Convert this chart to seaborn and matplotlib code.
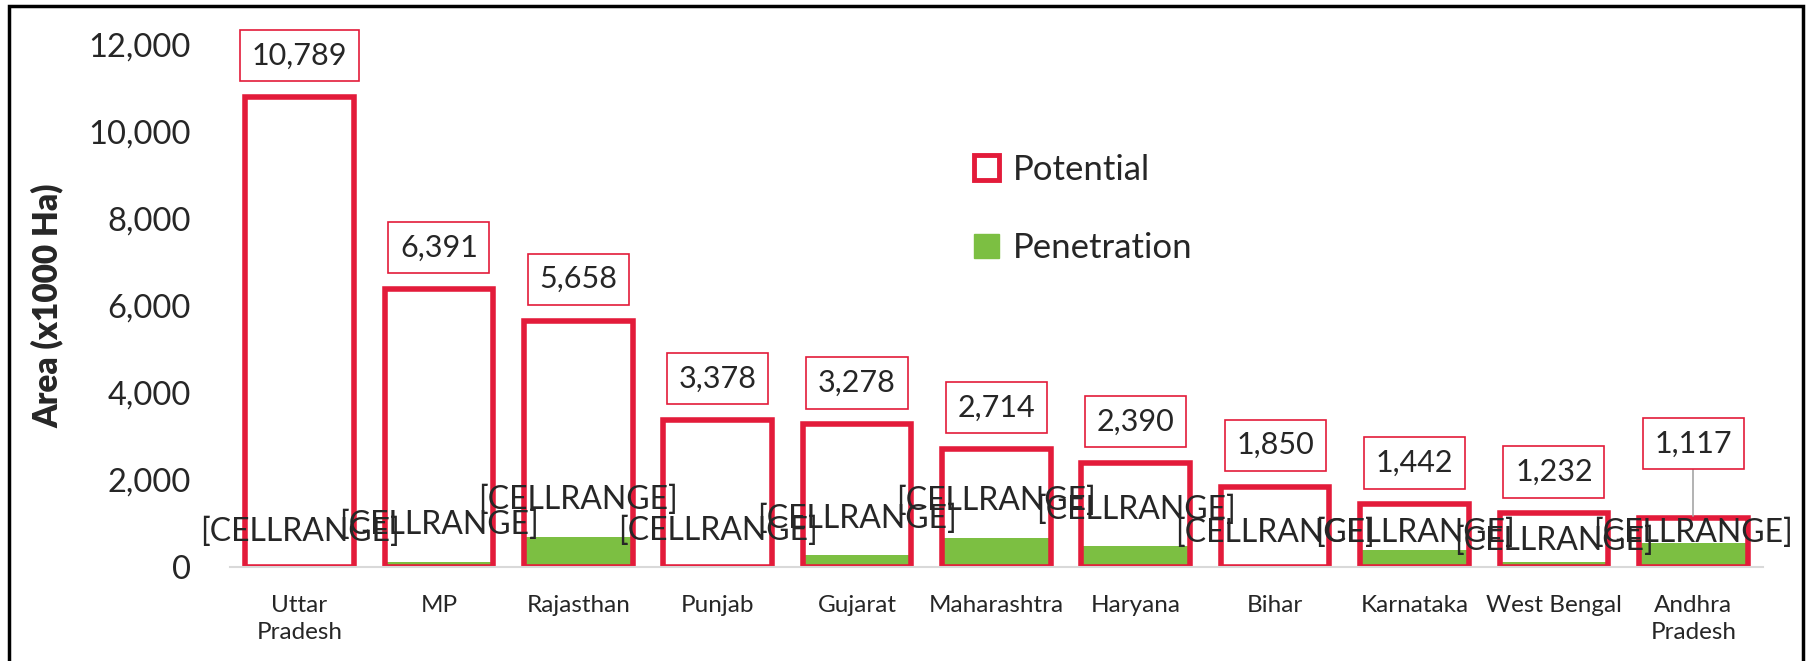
import seaborn as sns
import matplotlib.pyplot as plt
from matplotlib.patches import Patch, Rectangle
from matplotlib.ticker import FuncFormatter

states = ["Uttar\nPradesh", "MP", "Rajasthan", "Punjab", "Gujarat", "Maharashtra",
          "Haryana", "Bihar", "Karnataka", "West Bengal", "Andhra\nPradesh"]
potential = [10789, 6391, 5658, 3378, 3278, 2714, 2390, 1850, 1442, 1232, 1117]
penetration = [0, 120, 700, 0, 280, 665, 495, 0, 390, 115, 545]
pen_label = "[CELLRANGE]"

# label placement tweaks (data units above the bar top)
pot_lift = [950, 950, 950, 950, 950, 950, 950, 950, 950, 950, 1720]
pen_lift = [800, 850, 850, 830, 820, 860, 810, 790, 400, 485, 250]

red = "#E31B3A"
green = "#7CBF42"

sns.set_style("white")
plt.rcParams["font.family"] = ["Lato", "DejaVu Sans"]

fig = plt.figure(figsize=(18.1, 6.61), dpi=100)
ax = fig.add_axes([0.127, 0.142, 0.847, 0.791])

sns.barplot(x=states, y=penetration, color=green, width=0.78, errorbar=None,
            saturation=1, ax=ax, linewidth=0)
sns.barplot(x=states, y=potential, color=red, fill=False, width=0.78, errorbar=None,
            saturation=1, ax=ax, linewidth=4)

for i, v in enumerate(potential):
    y = v + pot_lift[i]
    ax.text(i, y, f"{v:,}", ha="center", va="center", fontsize=22, zorder=5,
            bbox=dict(boxstyle="square,pad=0.38", fc="white", ec=red, lw=1.2),
            clip_on=False)
    if pot_lift[i] > 1200:
        ax.plot([i, i], [v + 60, y - 480], color="#A6A6A6", lw=1.2, zorder=4)

for i, v in enumerate(penetration):
    ax.text(i, v + pen_lift[i], pen_label, ha="center", va="center",
            fontsize=23, zorder=6, clip_on=False)

ax.set_ylim(0, 12000)
ax.set_xlim(-0.5, len(states) - 0.5)
ax.set_yticks(range(0, 12001, 2000))
ax.yaxis.set_major_formatter(FuncFormatter(lambda v, p: f"{int(v):,}"))
ax.tick_params(axis="y", labelsize=23.5, length=0, pad=28)
ax.tick_params(axis="x", labelsize=17.5, length=0, pad=20)
for t in ax.get_xticklabels():
    t.set_linespacing(1.35)
ax.set_xlabel("")
ax.set_ylabel("Area (x1000 Ha)", fontsize=24, fontweight="heavy", labelpad=18)

for s in ["top", "right", "left"]:
    ax.spines[s].set_visible(False)
ax.spines["bottom"].set_color("#D9D9D9")
ax.spines["bottom"].set_linewidth(1.5)

handles = [Patch(facecolor="white", edgecolor=red, linewidth=3.5, label="Potential"),
           Patch(facecolor=green, edgecolor=green, label="Penetration")]
fig.legend(handles=handles, loc="upper left", bbox_to_anchor=(0.521, 0.815),
           frameon=False, fontsize=25, handlelength=0.7, handleheight=0.7,
           handletextpad=0.4, labelspacing=1.35)

# outer frame
fig.patches.append(Rectangle((0.005, -0.05), 0.991, 1.041, transform=fig.transFigure,
                             fill=False, ec="black", lw=2.5))

fig.savefig("out.png", dpi=100)
